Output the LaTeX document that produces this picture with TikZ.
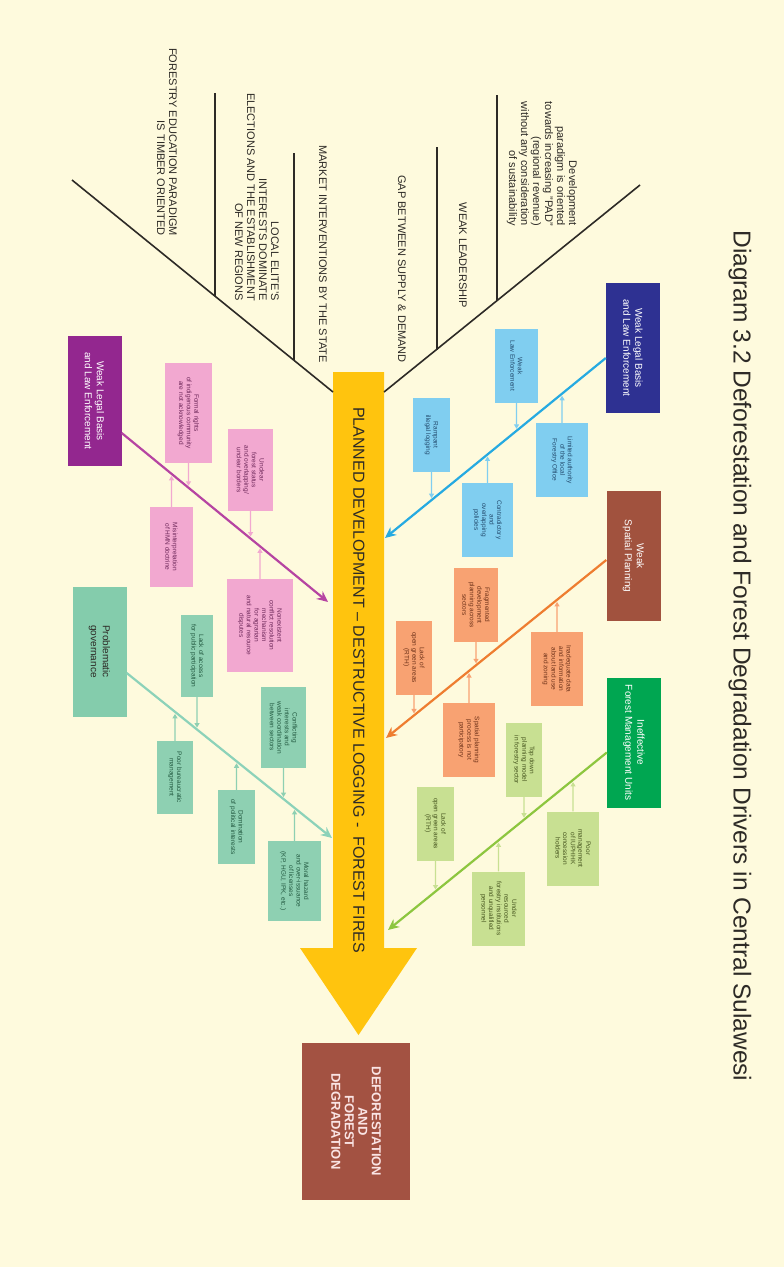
\documentclass[tikz,border=0pt]{standalone}
\usepackage{fontspec}
\setmainfont{Liberation Sans}
\usetikzlibrary{arrows.meta}
\usetikzlibrary{calc}

\definecolor{paper}{RGB}{254,250,221}
\definecolor{inkgrey}{RGB}{45,42,38}
\definecolor{trunk}{RGB}{255,196,14}
\definecolor{navybox}{RGB}{46,49,146}
\definecolor{rustbox}{RGB}{161,82,62}
\definecolor{forestbox}{RGB}{0,166,81}
\definecolor{plumbox}{RGB}{147,39,143}
\definecolor{sagebox}{RGB}{132,204,172}
\definecolor{resultbox}{RGB}{163,82,66}
\definecolor{blueline}{RGB}{38,170,225}
\definecolor{orangeline}{RGB}{238,125,48}
\definecolor{greenline}{RGB}{141,198,63}
\definecolor{plumline}{RGB}{182,68,162}
\definecolor{sageline}{RGB}{140,210,185}
\definecolor{bluecell}{RGB}{128,206,240}
\definecolor{orangecell}{RGB}{248,162,114}
\definecolor{greencell}{RGB}{200,224,146}
\definecolor{pinkcell}{RGB}{242,168,208}
\definecolor{sagecell}{RGB}{142,208,178}
\definecolor{bluetext}{RGB}{35,75,110}
\definecolor{orangetext}{RGB}{110,50,25}
\definecolor{greentext}{RGB}{70,85,30}
\definecolor{pinktext}{RGB}{110,40,90}
\definecolor{sagetext}{RGB}{35,90,65}

\begin{document}
\begin{tikzpicture}[x=1pt, y=-1pt,
every node/.style={rotate=-90, inner sep=1pt, align=center},
driver/.style={rectangle, text=white, minimum width=130pt, minimum height=54pt,
font=\fontsize{10}{12}\selectfont},
cell/.style={rectangle, minimum width=74pt, font=\fontsize{6.5}{7.6}\selectfont},
bluenote/.style={cell, fill=bluecell, text=bluetext},
orangenote/.style={cell, fill=orangecell, text=orangetext},
greennote/.style={cell, fill=greencell, text=greentext},
pinknote/.style={cell, fill=pinkcell, text=pinktext},
sagenote/.style={cell, fill=sagecell, text=sagetext},
cause/.style={anchor=east, align=right, inner sep=0pt, text=inkgrey,
font=\fontsize{11}{12}\selectfont},
bone/.style={line width=1.6pt, draw=inkgrey},
mainarrow/.style={line width=2.2pt, -{Stealth[length=11pt,width=10pt]}},
subarrow/.style={line width=1.3pt, shorten >=2pt, -{Triangle[length=4.5pt,width=5pt]}}]

\fill[paper] (0,0) rectangle (784,1267);
\useasboundingbox (0,0) rectangle (784,1267);

% spine
\fill[trunk] (333,372) -- (384,372) -- (384,948) -- (417,948) -- (358.5,1035)
  -- (300,948) -- (333,948) -- cycle;
\node[text=inkgrey, font=\fontsize{16}{16}\selectfont] (flow) at (359,680)
  {PLANNED DEVELOPMENT -- DESTRUCTIVE LOGGING - \ FOREST FIRES};
\node[fill=resultbox, minimum width=157pt, minimum height=108pt,
  text={rgb,255:red,250;green,228;blue,228}, font=\bfseries\fontsize{13}{13.5}\selectfont]
  (loss) at (356,1121.5) {DEFORESTATION\\AND\\FOREST\\DEGRADATION};
\node[text=inkgrey, font=\fontsize{24.5}{25}\selectfont] (caption) at (740,656)
  {Diagram 3.2 Deforestation and Forest Degradation Drivers in Central Sulawesi};

% head bones
\draw[bone] (72,180) -- (333,392);
\draw[bone] (640,185) -- (384,392);
\draw[bone] (215,93) -- (215,296);
\draw[bone] (294,153) -- (294,360);
\draw[bone] (497,95) -- (497,301);
\draw[bone] (437,147) -- (437,350);
\node[cause] (timber) at (167,236) {FORESTRY EDUCATION PARADIGM\\IS TIMBER ORIENTED};
\node[cause] (elites) at (257,301) {LOCAL ELITE'S\\INTERESTS DOMINATE\\ELECTIONS AND THE ESTABLISHMENT\\OF NEW REGIONS};
\node[cause] (market) at (323,363) {MARKET INTERVENTIONS BY THE STATE};
\node[cause] (gap) at (402,363) {GAP BETWEEN SUPPLY \& DEMAND};
\node[cause] (leader) at (463,308) {WEAK LEADERSHIP};
\node[cause] (paradigm) at (542,226) {Development\\paradigm is oriented\\towards increasing "PAD"\\(regional revenue)\\without any consideration\\of sustainability};

% drivers
\node[driver, fill=navybox] (legalR) at (633,348) {Weak Legal Basis\\and Law Enforcement};
\node[driver, fill=rustbox] (spatial) at (633.5,556) {Weak\\Spatial Planning};
\node[driver, fill=forestbox] (fmu) at (634,742.5) {Ineffective\\Forest Management Units};
\node[driver, fill=plumbox] (legalL) at (94.5,401) {Weak Legal Basis\\and Law Enforcement};
\node[driver, fill=sagebox, text=inkgrey] (governance) at (99.5,651.5) {Problematic\\governance};

\coordinate (blueA) at ($(legalR.south)+(0,10)$);
\coordinate (blueB) at (385,538);
\coordinate (orangeA) at ($(spatial.south)+(0,4)$);
\coordinate (orangeB) at (386,738);
\coordinate (greenA) at ($(fmu.south)+(0,10)$);
\coordinate (greenB) at (388,930);
\coordinate (plumA) at ($(legalL.north)+(0,32)$);
\coordinate (plumB) at (328,602);
\coordinate (sageA) at ($(governance.north)+(0,21.5)$);
\coordinate (sageB) at (332,838);

\draw[mainarrow, blueline] (blueA) -- (blueB);
\draw[mainarrow, orangeline] (orangeA) -- (orangeB);
\draw[mainarrow, greenline] (greenA) -- (greenB);
\draw[mainarrow, plumline] (plumA) -- (plumB);
\draw[mainarrow, sageline] (sageA) -- (sageB);

% sub causes
\node[bluenote, minimum height=43pt] (lawenf) at (516.5,366) {Weak\\Law Enforcement};
\node[bluenote, minimum height=52pt] (limited) at (562,460) {Limited authority\\of the local\\Forestry Office};
\node[bluenote, minimum height=37pt] (rampant) at (431.5,435) {Rampant\\illegal logging};
\node[bluenote, minimum height=51pt] (contra) at (487.5,520) {Contradictory\\and\\overlapping\\policies};

\node[orangenote, minimum height=44pt] (fragment) at (476,605) {Fragmented\\development\\planning across\\sectors};
\node[orangenote, minimum height=52pt] (inadequate) at (557,669) {Inadequate data\\and information\\about land use\\and zoning};
\node[orangenote, minimum height=36pt] (rthA) at (414,657.5) {Lack of\\open green areas\\(RTH)};
\node[orangenote, minimum height=52pt] (particip) at (469,740) {Spatial planning\\process is not\\participatory};

\node[greennote, minimum height=36pt] (topdown) at (524,760) {Top down\\planning model\\in forestry sector};
\node[greennote, minimum height=52pt] (iuphhk) at (573,848.5) {Poor\\management\\of IUPHHK\\concession\\holders};
\node[greennote, minimum height=37pt] (rthB) at (435.5,823.5) {Lack of\\open green areas\\(RTH)};
\node[greennote, minimum height=53pt] (underres) at (498.5,908.5) {Under\\resourced\\forestry institutions\\and unqualified\\personnel};

\node[pinknote, minimum width=100pt, minimum height=47pt] (indigenous) at (188.5,413) {Formal rights\\of indigenous community\\are not acknowledged};
\node[pinknote, minimum width=82pt, minimum height=45pt] (unclear) at (250.5,470) {Unclear\\forest status\\and overlapping/\\unclear borders};
\node[pinknote, minimum width=80pt, minimum height=43pt] (hmn) at (171.5,547) {Misinterpretation\\of HMN doctrine};
\node[pinknote, minimum width=93pt, minimum height=66pt] (conflictres) at (260,625.5) {Nonexistent\\conflict resolution\\mechanism\\for agrarian\\and natural resource\\disputes};

\node[sagenote, minimum width=82pt, minimum height=32pt] (access) at (197,656) {Lack of access\\for public participation};
\node[sagenote, minimum width=81pt, minimum height=45pt] (coord) at (283.5,727.5) {Conflicting\\interests and\\weak coordination\\between sectors};
\node[sagenote, minimum width=73pt, minimum height=36pt] (bureau) at (175,777.5) {Poor bureaucratic\\management};
\node[sagenote, minimum width=74pt, minimum height=37pt] (domination) at (236.5,827) {Domination\\of political interests};
\node[sagenote, minimum width=80pt, minimum height=53pt] (moral) at (294.5,881) {Moral hazard\\and over-issuance\\of licenses\\(KP, HGU, IPK, etc.)};

\foreach \cell/\side in {lawenf/east, limited/west, rampant/east, contra/west}
  \draw[subarrow, bluecell] (\cell.\side) -- (intersection cs: first line={(\cell.east)--(\cell.west)}, second line={(blueA)--(blueB)});
\foreach \cell/\side in {fragment/east, inadequate/west, rthA/east, particip/west}
  \draw[subarrow, orangecell] (\cell.\side) -- (intersection cs: first line={(\cell.east)--(\cell.west)}, second line={(orangeA)--(orangeB)});
\foreach \cell/\side in {topdown/east, iuphhk/west, rthB/east, underres/west}
  \draw[subarrow, greencell] (\cell.\side) -- (intersection cs: first line={(\cell.east)--(\cell.west)}, second line={(greenA)--(greenB)});
\foreach \cell/\side in {indigenous/east, unclear/east, hmn/west, conflictres/west}
  \draw[subarrow, pinkcell] (\cell.\side) -- (intersection cs: first line={(\cell.east)--(\cell.west)}, second line={(plumA)--(plumB)});
\foreach \cell/\side in {access/east, coord/east, bureau/west, domination/west, moral/west}
  \draw[subarrow, sagecell] (\cell.\side) -- (intersection cs: first line={(\cell.east)--(\cell.west)}, second line={(sageA)--(sageB)});
\end{tikzpicture}
\end{document}
